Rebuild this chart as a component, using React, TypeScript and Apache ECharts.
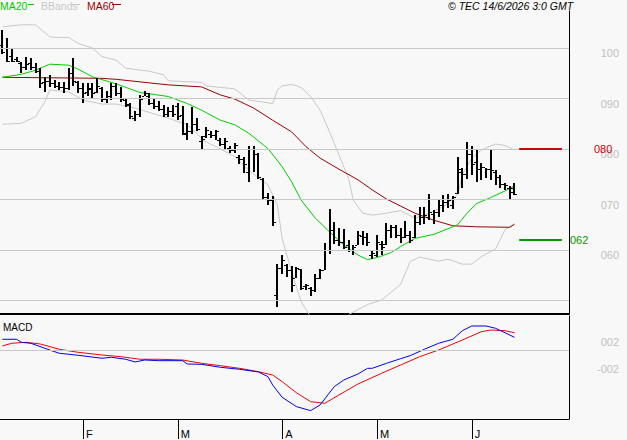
import React, { useEffect, useRef } from 'react';
import * as echarts from 'echarts';

// ---------- categories (trading days) ----------
const janDays = [8, 9, 12, 13, 14, 15, 16, 19, 20, 21, 22, 23, 26, 27, 28, 29, 30];
const febDays = [2, 3, 4, 5, 6, 9, 10, 11, 12, 13, 16, 17, 18, 19, 20, 23, 24, 25, 26, 27];
const marDays = [2, 3, 4, 5, 6, 9, 10, 11, 12, 13, 16, 17, 18, 19, 20, 23, 24, 25, 26, 27, 30, 31];
const aprDays = [1, 2, 7, 8, 9, 10, 13, 14, 15, 16, 17, 20, 21, 22, 23, 24, 27, 28, 29, 30];
const mayDays = [4, 5, 6, 7, 8, 11, 12, 13, 14, 15, 18, 19, 20, 21, 22, 25, 26, 27, 28, 29];
const junDays = [1, 2, 3, 4, 5, 8, 9, 10, 11, 12];
const futureJunDays = [15, 16, 17, 18, 19, 22, 23, 24, 25, 26, 29];

const monthStartDates = ['2026-02-02', '2026-03-02', '2026-04-01', '2026-05-04', '2026-06-01'];
const monthLetters = ['F', 'M', 'A', 'M', 'J'];

// ---------- OHLC ----------
const openP = [1.005,1.000,0.985,0.978,0.970,0.962,0.970,0.962,0.955,0.932,
  0.935,0.930,0.925,0.922,0.920,0.950,0.932,0.920,0.912,0.918,
  0.912,0.920,0.900,0.905,0.925,0.910,0.898,0.888,0.862,0.870,
  0.905,0.905,0.892,0.885,0.880,0.870,0.875,0.885,0.868,0.830,
  0.835,0.850,0.815,0.825,0.830,0.828,0.818,0.810,0.802,0.798,
  0.785,0.780,0.755,0.800,0.790,0.740,0.705,0.700,0.510,0.565,
  0.570,0.560,0.545,0.563,0.528,0.525,0.520,0.545,0.560,0.600,
  0.640,0.620,0.615,0.610,0.600,0.610,0.628,0.625,0.590,0.590,
  0.612,0.612,0.640,0.645,0.630,0.625,0.630,0.625,0.655,0.665,
  0.665,0.672,0.675,0.690,0.695,0.690,0.712,0.755,0.750,0.790,
  0.775,0.760,0.765,0.760,0.755,0.745,0.730,0.722,0.722];
const highP = [1.036,1.019,1.001,0.983,0.972,0.983,0.980,0.970,0.960,0.943,
  0.947,0.937,0.933,0.932,0.961,0.980,0.934,0.930,0.930,0.930,
  0.940,0.923,0.914,0.930,0.930,0.923,0.899,0.892,0.876,0.907,
  0.914,0.910,0.899,0.895,0.887,0.884,0.887,0.892,0.885,0.851,
  0.883,0.862,0.825,0.843,0.835,0.838,0.821,0.821,0.805,0.812,
  0.788,0.785,0.805,0.805,0.792,0.742,0.712,0.706,0.573,0.590,
  0.573,0.569,0.567,0.563,0.532,0.527,0.553,0.563,0.613,0.682,
  0.656,0.643,0.642,0.620,0.610,0.638,0.637,0.633,0.600,0.629,
  0.617,0.653,0.650,0.650,0.643,0.658,0.638,0.670,0.686,0.686,
  0.710,0.680,0.699,0.709,0.710,0.706,0.785,0.762,0.814,0.805,
  0.798,0.772,0.762,0.798,0.758,0.749,0.732,0.726,0.732];
const lowP = [0.988,0.973,0.972,0.972,0.950,0.956,0.956,0.950,0.921,0.913,
  0.923,0.920,0.917,0.910,0.917,0.925,0.910,0.892,0.904,0.900,
  0.910,0.894,0.892,0.898,0.904,0.894,0.884,0.860,0.856,0.864,
  0.904,0.887,0.880,0.876,0.864,0.864,0.864,0.858,0.828,0.818,
  0.829,0.836,0.798,0.821,0.821,0.818,0.805,0.798,0.793,0.792,
  0.770,0.752,0.735,0.755,0.741,0.701,0.690,0.648,0.487,0.553,
  0.547,0.517,0.545,0.520,0.520,0.509,0.517,0.542,0.560,0.593,
  0.611,0.607,0.603,0.597,0.591,0.609,0.610,0.607,0.583,0.587,
  0.591,0.610,0.623,0.623,0.613,0.623,0.613,0.623,0.650,0.651,
  0.660,0.651,0.666,0.676,0.683,0.682,0.710,0.722,0.740,0.749,
  0.735,0.739,0.742,0.739,0.729,0.722,0.718,0.699,0.708];
const closeP = [0.992,0.975,0.974,0.975,0.962,0.968,0.962,0.955,0.930,0.935,
  0.930,0.925,0.922,0.920,0.950,0.935,0.920,0.910,0.920,0.910,
  0.925,0.900,0.905,0.925,0.910,0.900,0.890,0.865,0.870,0.900,
  0.910,0.892,0.885,0.880,0.870,0.875,0.870,0.865,0.832,0.835,
  0.850,0.840,0.820,0.838,0.828,0.835,0.810,0.815,0.798,0.808,
  0.780,0.770,0.800,0.790,0.745,0.705,0.700,0.655,0.565,0.580,
  0.560,0.530,0.565,0.525,0.530,0.520,0.545,0.560,0.600,0.640,
  0.620,0.615,0.605,0.600,0.605,0.630,0.625,0.615,0.595,0.615,
  0.605,0.640,0.645,0.630,0.625,0.630,0.620,0.655,0.665,0.670,
  0.675,0.675,0.690,0.695,0.700,0.705,0.760,0.750,0.790,0.770,
  0.760,0.765,0.760,0.758,0.745,0.730,0.728,0.715,0.710];

// ---------- indicators: [day index, value] ----------
const ma20Pts = [[0,0.942],[3.7,0.948],[6.5,0.956],[10,0.968],[13.6,0.966],[15.7,0.958],[19.2,0.943],[24.2,0.929],[29,0.912],[34.7,0.904],[39,0.890],[41.7,0.877],[45.9,0.857],[48.7,0.848],[52.2,0.831],[55.8,0.801],[58.6,0.765],[60.7,0.735],[62.8,0.699],[65.5,0.663],[68.5,0.636],[71.9,0.610],[74.8,0.590],[76.9,0.581],[79,0.585],[81.8,0.595],[83.9,0.607],[87.4,0.623],[90.9,0.631],[95.9,0.650],[98,0.673],[100.1,0.692],[102.9,0.704],[105.6,0.717],[108,0.727]];
const ma60Pts = [[0,0.942],[20.6,0.940],[23.8,0.938],[34.7,0.927],[41.7,0.923],[45.9,0.907],[48.7,0.899],[52.9,0.881],[57.1,0.857],[60.7,0.834],[64.2,0.805],[67,0.782],[71.2,0.760],[74.8,0.739],[78.2,0.719],[81.1,0.701],[83.9,0.687],[87.4,0.673],[90.9,0.659],[95.1,0.648],[99.7,0.646],[106.5,0.645],[108,0.651]];
const bbUpperPts = [[0,1.042],[3.7,1.046],[7.3,1.046],[10,1.022],[12.2,1.021],[14.3,1.021],[16.4,1.009],[19.2,1.000],[21.3,0.983],[23.8,0.976],[26.3,0.960],[31.1,0.954],[33.9,0.947],[35.4,0.935],[41.7,0.932],[43.2,0.925],[48.7,0.919],[52.2,0.897],[56.9,0.890],[57.9,0.917],[59.2,0.925],[61.1,0.928],[62.8,0.922],[64.9,0.904],[67,0.877],[69.1,0.834],[70.8,0.788],[72.7,0.742],[74,0.699],[76.1,0.673],[77.6,0.669],[81.1,0.673],[83.9,0.678],[86.6,0.663],[89.5,0.673],[93,0.686],[95.5,0.709],[97,0.749],[98.7,0.782],[100.8,0.798],[103.5,0.810],[105.6,0.807],[108,0.798]];
const bbLowerPts = [[0,0.849],[4.4,0.851],[6.5,0.864],[8.6,0.894],[10.4,0.917],[13.6,0.913],[17,0.897],[20.6,0.889],[24.2,0.889],[27.6,0.881],[34.7,0.861],[39,0.848],[41.7,0.822],[42,0.818],[45.3,0.805],[48.7,0.785],[52.2,0.758],[55.8,0.729],[57.9,0.689],[59.2,0.623],[61.3,0.557],[62.8,0.498],[64.5,0.468],[66.5,0.452],[69,0.446],[71.5,0.452],[73.3,0.472],[76.9,0.492],[80.3,0.501],[83.9,0.532],[86,0.577],[88.1,0.586],[92.3,0.578],[94.4,0.582],[96.5,0.572],[98.7,0.572],[101.4,0.587],[103.5,0.602],[105.6,0.640],[108,0.652]];
const macdPts = [[0,0.0166],[2.5,0.0166],[4.1,0.0121],[6.3,0.0107],[9.6,0.0007],[12.2,-0.0041],[16.4,-0.0071],[21.4,-0.0115],[23.1,-0.0101],[25.7,-0.0130],[27.8,-0.0170],[29.9,-0.0141],[33.3,-0.0151],[37.5,-0.0151],[39.2,-0.0200],[41.7,-0.0205],[45.9,-0.0249],[50.1,-0.0278],[53.5,-0.0318],[55.6,-0.0387],[57.3,-0.0511],[59,-0.0693],[61.5,-0.0831],[64.9,-0.0891],[67,-0.0807],[69.5,-0.0535],[72,-0.0437],[74.6,-0.0348],[76.7,-0.0264],[78.4,-0.0264],[80.5,-0.0190],[83.9,-0.0121],[86,-0.0077],[88.9,0.0018],[92.3,0.0107],[94.9,0.0166],[97.4,0.0293],[99.1,0.0363],[102,0.0363],[104.1,0.0329],[106.3,0.0263],[108,0.0195]];
const signalPts = [[0,0.0067],[1.6,0.0107],[4.6,0.0121],[7.9,0.0096],[12.2,0.0018],[16.4,-0.0027],[20.6,-0.0067],[24.8,-0.0092],[29,-0.0130],[33.3,-0.0130],[37.5,-0.0141],[41.7,-0.0190],[45.9,-0.0225],[50.1,-0.0264],[54.4,-0.0314],[56.9,-0.0363],[58.6,-0.0462],[61.9,-0.0625],[65.3,-0.0758],[68.3,-0.0782],[71.2,-0.0659],[75.4,-0.0496],[79.7,-0.0337],[83.9,-0.0215],[88.1,-0.0092],[92.3,0.0007],[96.5,0.0155],[100.8,0.0278],[103.3,0.0303],[105.8,0.0293],[108,0.0263]];

// ---------- axis ticks & markers ----------
const priceGridValues = [0.5, 0.6, 0.7, 0.8, 0.9, 1.0];
const priceTickValues = [1.0, 0.9, 0.8, 0.7, 0.6];
const priceTickLabels = ['100', '090', '080', '070', '060'];
const macdTickValues = [0.02, -0.02];
const macdTickLabels = ['002', '-002'];
const resistanceLevel = 0.80;
const resistanceLabel = '080';
const supportLevel = 0.62;
const supportLabel = '062';
const markerStartIdx = 109;
const markerEndIdx = 118;

const pad = (n: number) => (n < 10 ? '0' + n : '' + n);
const categories: string[] = [
  ...janDays.map((d) => `2026-01-${pad(d)}`),
  ...febDays.map((d) => `2026-02-${pad(d)}`),
  ...marDays.map((d) => `2026-03-${pad(d)}`),
  ...aprDays.map((d) => `2026-04-${pad(d)}`),
  ...mayDays.map((d) => `2026-05-${pad(d)}`),
  ...junDays.map((d) => `2026-06-${pad(d)}`),
  ...futureJunDays.map((d) => `2026-06-${pad(d)}`),
];
const monthStartIdx = monthStartDates.map((d) => categories.indexOf(d));

const FONT = '"Liberation Sans", Arial, sans-serif';

export default function App() {
  const ref = useRef<HTMLDivElement>(null);
  useEffect(() => {
    if (!ref.current) return;
    const chart = echarts.init(ref.current, null, { renderer: 'svg' });
    const ohlc = openP.map((o, i) => [i, o, highP[i], lowP[i], closeP[i]]);

    const option: any = {
      animation: false,
      backgroundColor: '#f8f8f8',
      grid: [
        { left: 0, right: 58, top: 11, height: 303 },
        { left: 0, right: 58, top: 316, height: 103 },
      ],
      xAxis: [
        {
          gridIndex: 0, type: 'category', data: categories, boundaryGap: true, position: 'bottom',
          axisLine: { show: true, onZero: false, lineStyle: { color: '#000', width: 2 } },
          axisTick: { show: false }, axisLabel: { show: false }, splitLine: { show: false },
        },
        {
          gridIndex: 1, type: 'category', data: categories, boundaryGap: true, position: 'bottom',
          axisLine: { show: true, onZero: false, lineStyle: { color: '#000', width: 1 } },
          axisTick: {
            show: true, alignWithLabel: true, length: 20,
            interval: (idx: number) => monthStartIdx.includes(idx),
            lineStyle: { color: '#000', width: 1 },
          },
          axisLabel: {
            show: true,
            interval: (idx: number) => monthStartIdx.includes(idx),
            formatter: (_v: string, idx: number) => {
              const k = monthStartIdx.indexOf(idx);
              return k >= 0 ? monthLetters[k] : '';
            },
            align: 'left', margin: 9, padding: [0, 0, 0, 3],
            color: '#000', fontSize: 11, fontFamily: FONT,
          },
          splitLine: { show: false },
        },
      ],
      yAxis: [
        {
          gridIndex: 0, type: 'value', position: 'right', min: 0.4733, max: 1.0733,
          axisLine: { show: true, onZero: false, lineStyle: { color: '#000', width: 1 } },
          axisTick: { show: false }, axisLabel: { show: false }, splitLine: { show: false },
        },
        {
          gridIndex: 1, type: 'value', position: 'right', min: -0.1015, max: 0.0511,
          axisLine: { show: true, onZero: false, lineStyle: { color: '#000', width: 1 } },
          axisTick: { show: false }, axisLabel: { show: false }, splitLine: { show: false },
        },
      ],
      series: [
        {
          type: 'line', xAxisIndex: 0, yAxisIndex: 0, data: [], z: 0, silent: true,
          markLine: {
            silent: true, symbol: 'none', animation: false,
            lineStyle: { color: '#c8c8c8', width: 1, type: 'solid' },
            label: { show: false },
            data: priceGridValues.map((v) => ({ yAxis: v })),
          },
        },
        {
          type: 'line', xAxisIndex: 1, yAxisIndex: 1, data: [], z: 0, silent: true,
          markLine: {
            silent: true, symbol: 'none', animation: false,
            lineStyle: { color: '#c8c8c8', width: 1, type: 'solid' },
            label: { show: false },
            data: [{ yAxis: 0 }],
          },
        },
        {
          type: 'line', xAxisIndex: 0, yAxisIndex: 0, data: [], z: 5, silent: true,
          markLine: {
            silent: true, symbol: 'none', animation: false, label: { show: false },
            data: [
              [{ coord: [markerStartIdx, resistanceLevel], lineStyle: { color: '#cc0000', width: 2, type: 'solid' } },
               { coord: [markerEndIdx, resistanceLevel] }],
              [{ coord: [markerStartIdx, supportLevel], lineStyle: { color: '#009900', width: 2, type: 'solid' } },
               { coord: [markerEndIdx, supportLevel] }],
            ],
          },
        },
        {
          name: 'BBandsU', type: 'line', xAxisIndex: 0, yAxisIndex: 0, data: bbUpperPts,
          showSymbol: false, symbol: 'none', silent: true, z: 1,
          lineStyle: { color: '#c8c8c8', width: 1 },
        },
        {
          name: 'BBandsL', type: 'line', xAxisIndex: 0, yAxisIndex: 0, data: bbLowerPts,
          showSymbol: false, symbol: 'none', silent: true, z: 1, clip: true,
          lineStyle: { color: '#c8c8c8', width: 1 },
        },
        {
          name: 'MA60', type: 'line', xAxisIndex: 0, yAxisIndex: 0, data: ma60Pts,
          showSymbol: false, symbol: 'none', silent: true, z: 2,
          lineStyle: { color: '#990000', width: 1 },
        },
        {
          name: 'MA20', type: 'line', xAxisIndex: 0, yAxisIndex: 0, data: ma20Pts,
          showSymbol: false, symbol: 'none', silent: true, z: 2,
          lineStyle: { color: '#00cc00', width: 1 },
        },
        {
          name: 'OHLC', type: 'custom', xAxisIndex: 0, yAxisIndex: 0, data: ohlc, z: 3, silent: true,
          encode: { x: 0, y: [1, 2, 3, 4] },
          renderItem: (_params: any, api: any) => {
            const x = api.value(0);
            const pO = api.coord([x, api.value(1)]);
            const pH = api.coord([x, api.value(2)]);
            const pL = api.coord([x, api.value(3)]);
            const pC = api.coord([x, api.value(4)]);
            const cx = Math.round(pH[0]);
            const yH = Math.round(pH[1]);
            const yL = Math.round(pL[1]);
            return {
              type: 'group',
              children: [
                { type: 'rect', shape: { x: cx - 1, y: yH, width: 2, height: Math.max(1, yL - yH) }, style: { fill: '#000' } },
                { type: 'rect', shape: { x: cx - 3, y: Math.round(pO[1]), width: 2, height: 1 }, style: { fill: '#000' } },
                { type: 'rect', shape: { x: cx + 1, y: Math.round(pC[1]), width: 2, height: 1 }, style: { fill: '#000' } },
              ],
            };
          },
        },
        {
          name: 'Signal', type: 'line', xAxisIndex: 1, yAxisIndex: 1, data: signalPts,
          showSymbol: false, symbol: 'none', silent: true, z: 2,
          lineStyle: { color: '#ee0000', width: 1 },
        },
        {
          name: 'MACD', type: 'line', xAxisIndex: 1, yAxisIndex: 1, data: macdPts,
          showSymbol: false, symbol: 'none', silent: true, z: 2,
          lineStyle: { color: '#0000ee', width: 1 },
        },
      ],
    };
    chart.setOption(option);

    const txt = (x: number, y: number, text: string, fill: string, size: number, align = 'left', italic = false) => ({
      type: 'text', x, y, silent: true, z: 10,
      style: {
        text, fill, font: `${italic ? 'italic ' : ''}${size}px ${FONT}`,
        textAlign: align, align, textVerticalAlign: 'middle', verticalAlign: 'middle',
      },
    });
    const seg = (x1: number, y1: number, x2: number, y2: number, color: string) => ({
      type: 'line', silent: true, z: 10,
      shape: { x1, y1, x2, y2 }, style: { stroke: color, lineWidth: 1 },
    });

    const gfx: any[] = [];
    priceTickValues.forEach((v, i) => {
      const y = chart.convertToPixel({ yAxisIndex: 0 } as any, v) as number;
      gfx.push(txt(619, y + 5, priceTickLabels[i], '#c0c0c0', 11, 'right'));
    });
    macdTickValues.forEach((v, i) => {
      const y = chart.convertToPixel({ yAxisIndex: 1 } as any, v) as number;
      gfx.push(txt(619, y + 5, macdTickLabels[i], '#c0c0c0', 11, 'right'));
    });
    const yR = chart.convertToPixel({ yAxisIndex: 0 } as any, resistanceLevel) as number;
    const yS = chart.convertToPixel({ yAxisIndex: 0 } as any, supportLevel) as number;
    gfx.push(txt(594, yR, resistanceLabel, '#cc0000', 11, 'left'));
    gfx.push(txt(570, yS, supportLabel, '#009900', 11, 'left'));

    // legend
    gfx.push(txt(0, 6, 'MA20', '#00cc00', 10.5));
    gfx.push(seg(28, 4.5, 34, 4.5, '#00cc00'));
    gfx.push(txt(41, 6, 'BBands', '#c8c8c8', 10.5));
    gfx.push(seg(72, 4.5, 80, 4.5, '#c8c8c8'));
    gfx.push(txt(87, 6, 'MA60', '#990000', 10.5));
    gfx.push(seg(112, 4.5, 121, 4.5, '#990000'));
    gfx.push(txt(448, 6, '© TEC 14/6/2026 3:0 GMT', '#000', 10.5, 'left', true));
    gfx.push(txt(3, 327.5, 'MACD', '#000', 10));

    chart.setOption({ graphic: gfx });
    return () => chart.dispose();
  }, []);

  return (
    <div
      ref={ref}
      style={{ position: 'fixed', left: 0, top: 0, width: 627, height: 440, background: '#f8f8f8' }}
    />
  );
}
